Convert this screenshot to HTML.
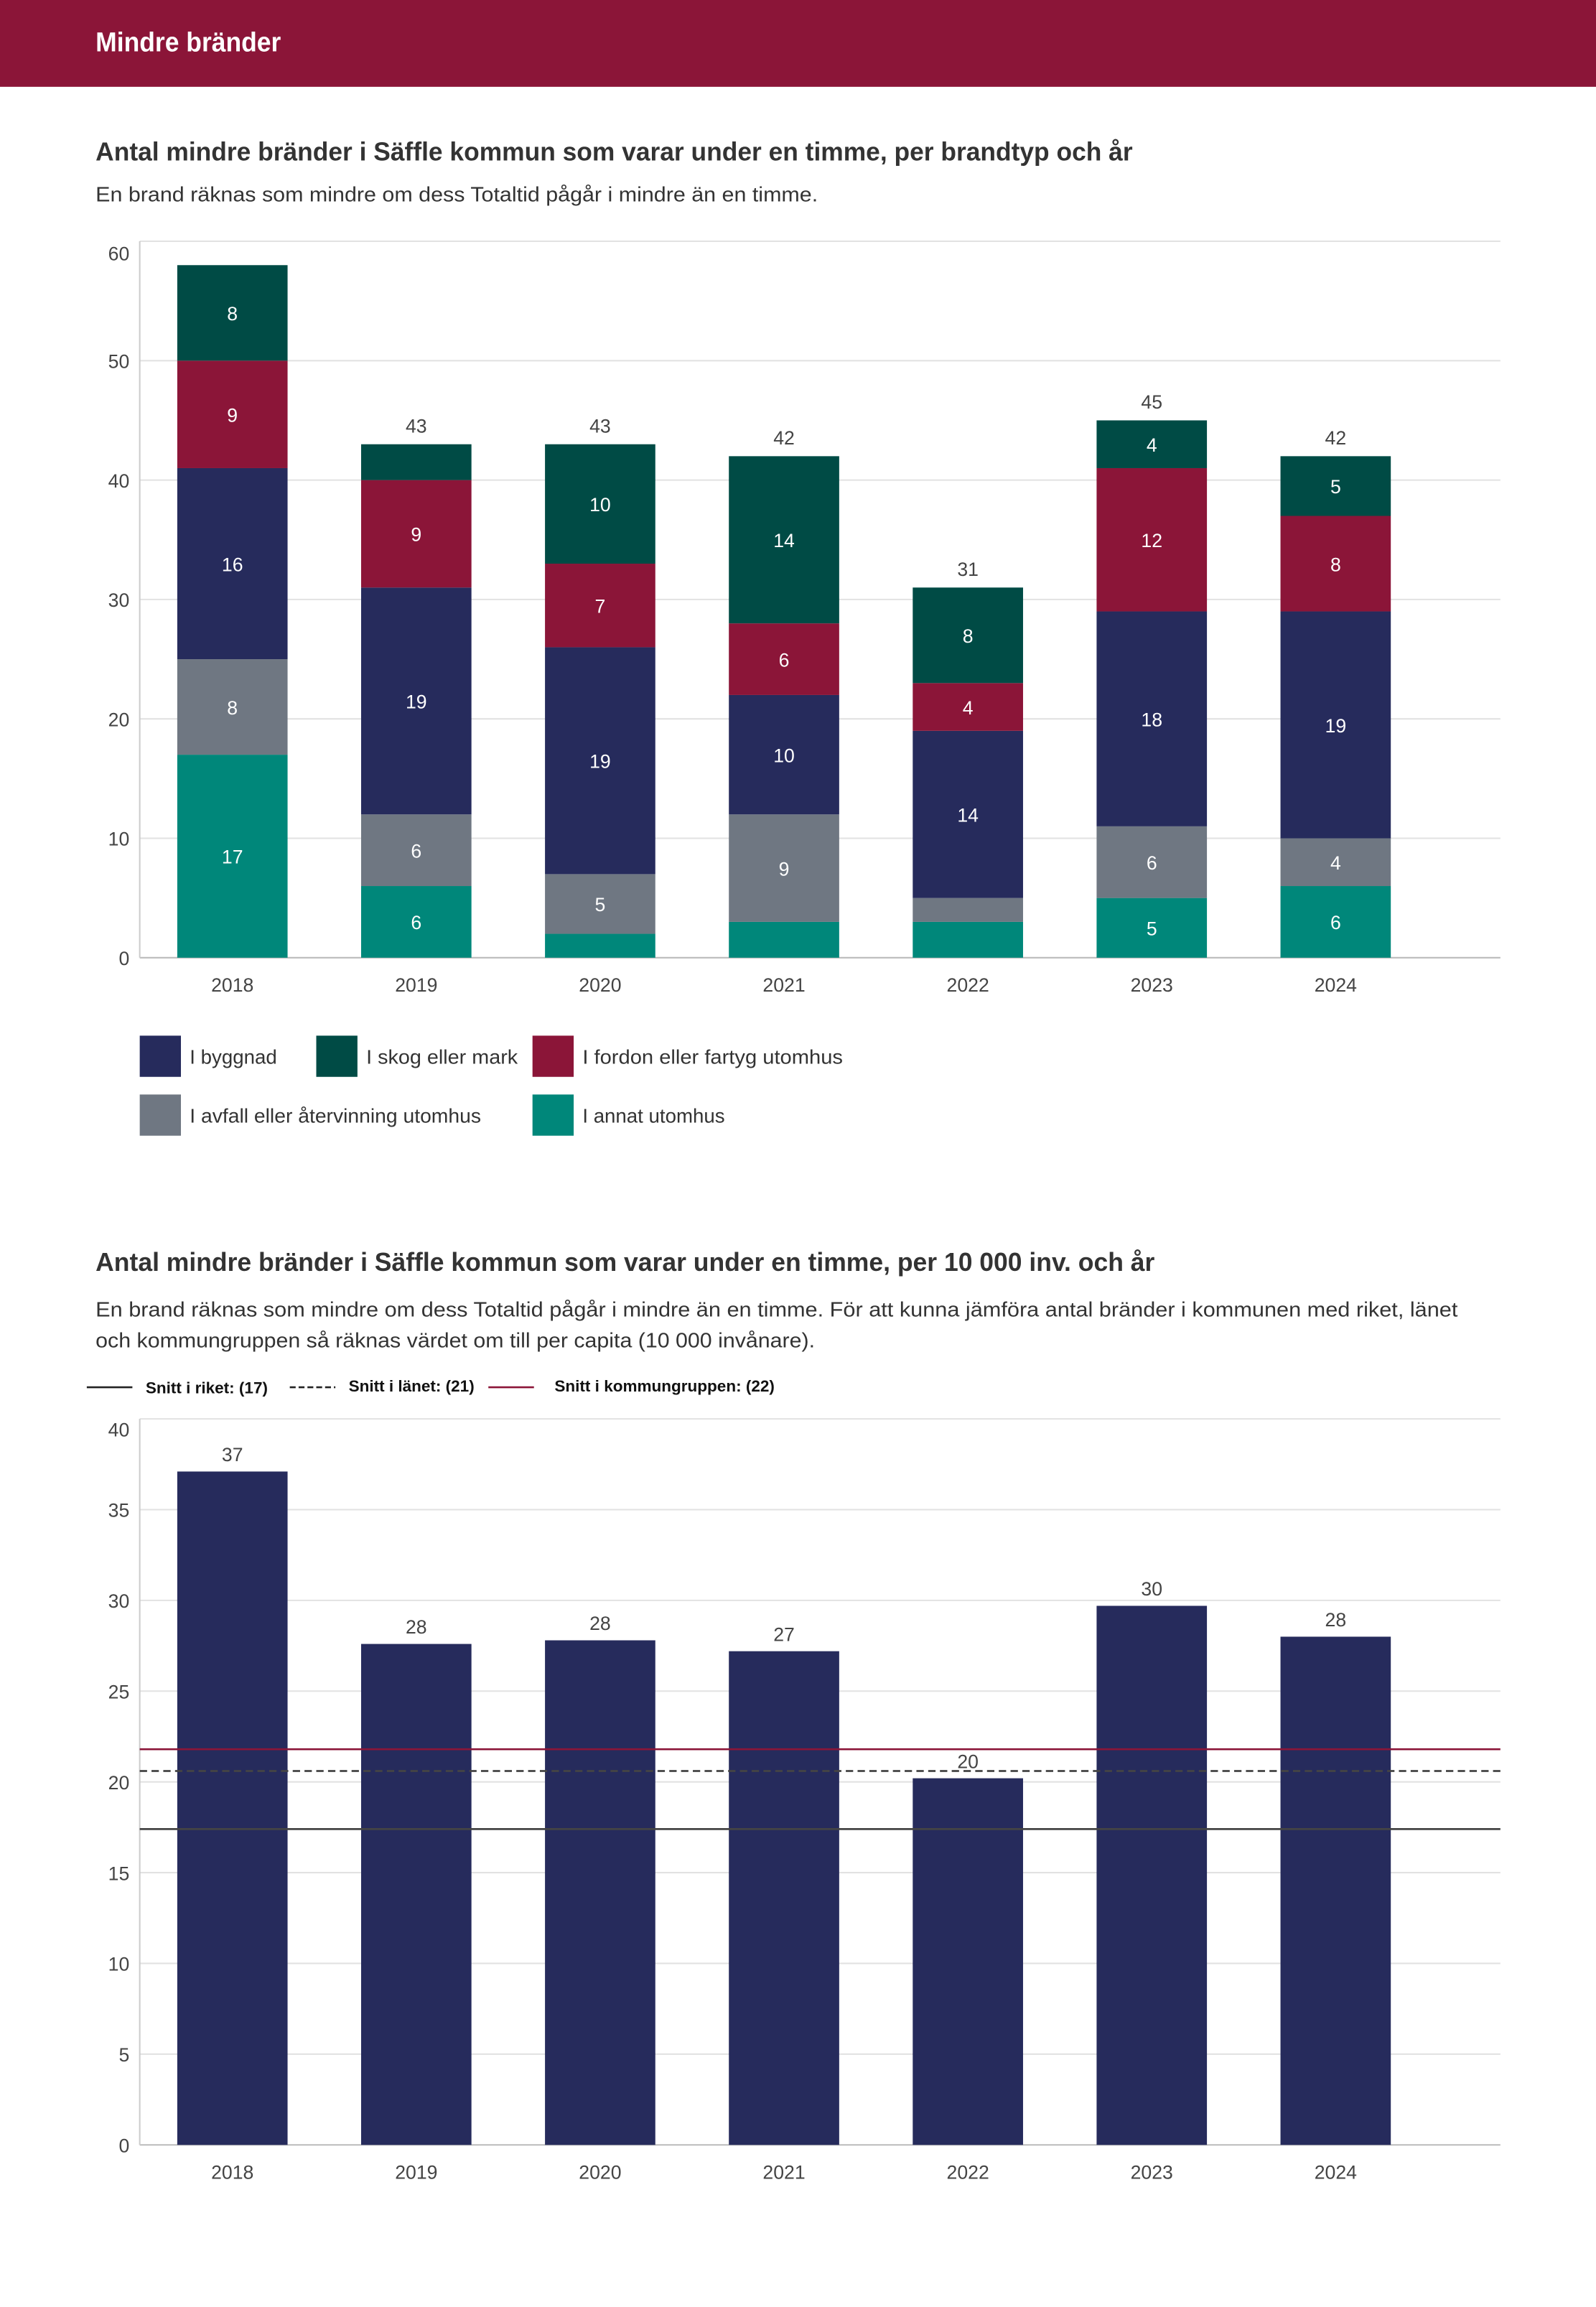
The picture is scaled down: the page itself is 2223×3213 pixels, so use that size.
<!DOCTYPE html>
<html><head><meta charset="utf-8"><style>
html,body{margin:0;padding:0;background:#fff}
svg{display:block}
text{font-family:"Liberation Sans",sans-serif}
</style></head><body>
<svg id="root" width="2223" height="3213" viewBox="0 0 1085 1568.2" xmlns="http://www.w3.org/2000/svg">
<rect x="0" y="0" width="1085" height="59" fill="#8b1538"/>
<text x="65" y="35" fill="#fff" font-size="18.5" font-weight="bold" textLength="126" lengthAdjust="spacingAndGlyphs">Mindre bränder</text>

<text x="65" y="109" fill="#333" font-size="17.5" font-weight="bold" textLength="705" lengthAdjust="spacingAndGlyphs">Antal mindre bränder i Säffle kommun som varar under en timme, per brandtyp och år</text>
<text x="65" y="137" fill="#333" font-size="14" textLength="491" lengthAdjust="spacingAndGlyphs">En brand räknas som mindre om dess Totaltid pågår i mindre än en timme.</text>
<g id="c1"></g>

<g>
<g><rect x="95" y="704" width="28" height="28" fill="#262b5c"/><text x="129" y="723" font-size="13.5" fill="#333">I byggnad</text></g>
<g><rect x="215" y="704" width="28" height="28" fill="#004b45"/><text x="249" y="723" font-size="13.5" fill="#333" textLength="103" lengthAdjust="spacingAndGlyphs">I skog eller mark</text></g>
<g><rect x="362" y="704" width="28" height="28" fill="#8b1538"/><text x="396" y="723" font-size="13.5" fill="#333" textLength="177" lengthAdjust="spacingAndGlyphs">I fordon eller fartyg utomhus</text></g>
<g><rect x="95" y="744" width="28" height="28" fill="#6f7782"/><text x="129" y="763" font-size="13.5" fill="#333" textLength="198" lengthAdjust="spacingAndGlyphs">I avfall eller återvinning utomhus</text></g>
<g><rect x="362" y="744" width="28" height="28" fill="#00877a"/><text x="396" y="763" font-size="13.5" fill="#333">I annat utomhus</text></g>
</g>

<text x="65" y="864" fill="#333" font-size="17.5" font-weight="bold" textLength="720" lengthAdjust="spacingAndGlyphs">Antal mindre bränder i Säffle kommun som varar under en timme, per 10 000 inv. och år</text>
<text x="65" y="895" fill="#333" font-size="14" textLength="926" lengthAdjust="spacingAndGlyphs">En brand räknas som mindre om dess Totaltid pågår i mindre än en timme. För att kunna jämföra antal bränder i kommunen med riket, länet</text>
<text x="65" y="916" fill="#333" font-size="14" textLength="489" lengthAdjust="spacingAndGlyphs">och kommungruppen så räknas värdet om till per capita (10 000 invånare).</text>
<g>
<g><line x1="59" y1="943" x2="90" y2="943" stroke="#222" stroke-width="1.3"/><text x="99" y="947" font-size="11" font-weight="bold" fill="#111">Snitt i riket: (17)</text></g>
<g><line x1="197" y1="943" x2="228" y2="943" stroke="#222" stroke-width="1.3" stroke-dasharray="4,2"/><text x="237" y="946" font-size="11" font-weight="bold" fill="#111">Snitt i länet: (21)</text></g>
<g><line x1="332" y1="943" x2="363" y2="943" stroke="#8b1538" stroke-width="1.3"/><text x="377" y="946" font-size="11" font-weight="bold" fill="#111">Snitt i kommungruppen: (22)</text></g>
</g>
<g id="c2"></g>
</svg>
<script>
const years = ["2018","2019","2020","2021","2022","2023","2024"];
const byggnad = [16,19,19,10,14,18,19];
const skog = [8,3,10,14,8,4,5];
const fordon = [9,9,7,6,4,12,8];
const avfall = [8,6,5,9,2,6,4];
const annat = [17,6,2,3,3,5,6];
const ticks1 = [0,10,20,30,40,50,60];
const perCapita = [37.1,27.6,27.8,27.2,20.2,29.7,28.0];
const perCapitaLabels = ["37","28","28","27","20","30","28"];
const ticks2 = [0,5,10,15,20,25,30,35,40];
const snittRiket = [17.4];
const snittLanet = [20.6];
const snittKommungrupp = [21.8];

const NS="http://www.w3.org/2000/svg";
function mk(tag,attrs,parent,txt){const e=document.createElementNS(NS,tag);for(const k in attrs)e.setAttribute(k,attrs[k]);if(txt!==undefined)e.textContent=txt;parent.appendChild(e);return e;}
const px0=95, px1=1020, step=125, bw=75, firstC=158;
const xc=i=>firstC+i*step;

// chart 1
const c1=document.getElementById('c1');
const y1=v=>651-v*(651-164)/60;
ticks1.forEach((t,k)=>{
  const g=mk('line',{x1:px0,x2:px1,y1:y1(t),y2:y1(t),stroke:t===0?'#bbb':'#e2e2e2','stroke-width':1},c1);
  
  
  const off=(k===ticks1.length-1)?13:5;
  const l=mk('text',{x:88,y:y1(t)+off,'text-anchor':'end','font-size':13,fill:'#444'},c1,t);
  
  
});
mk('line',{x1:px0,x2:px0,y1:164,y2:651,stroke:'#ccc'},c1);
const series=[["annat",annat,"#00877a"],["avfall",avfall,"#6f7782"],["byggnad",byggnad,"#262b5c"],["fordon",fordon,"#8b1538"],["skog",skog,"#004b45"]];
years.forEach((yr,i)=>{
  let acc=0;
  series.forEach(([nm,arr,col])=>{
    const v=arr[i];const top=y1(acc+v),bot=y1(acc);
    const r=mk('rect',{x:xc(i)-bw/2,y:top,width:bw,height:bot-top,fill:col},c1);
    
    
    if(v>=4){const t=mk('text',{x:xc(i),y:(top+bot)/2+5,'text-anchor':'middle','font-size':13,fill:'#fff'},c1,v);
      
      }
    acc+=v;
  });
  if(y1(acc)-10>185){const t=mk('text',{x:xc(i),y:y1(acc)-8,'text-anchor':'middle','font-size':13,fill:'#444'},c1,acc);
    
    }
  const xl=mk('text',{x:xc(i),y:674,'text-anchor':'middle','font-size':13,fill:'#444'},c1,yr);
  
  
});

// chart 2
const c2=document.getElementById('c2');
const y2=v=>1458-v*(1458-964.5)/40;
ticks2.forEach((t,k)=>{
  const g=mk('line',{x1:px0,x2:px1,y1:y2(t),y2:y2(t),stroke:t===0?'#bbb':'#e2e2e2','stroke-width':1},c2);
  
  
  const off=(k===ticks2.length-1)?12:5;
  const l=mk('text',{x:88,y:y2(t)+off,'text-anchor':'end','font-size':13,fill:'#444'},c2,t);
  
  
});
mk('line',{x1:px0,x2:px0,y1:964.5,y2:1458,stroke:'#ccc'},c2);
years.forEach((yr,i)=>{
  const top=y2(perCapita[i]);
  const r=mk('rect',{x:xc(i)-bw/2,y:top,width:bw,height:1458-top,fill:'#262b5c'},c2);
  
  
  const t=mk('text',{x:xc(i),y:top-7,'text-anchor':'middle','font-size':13,fill:'#444'},c2,perCapitaLabels[i]);
  
  
  const xl=mk('text',{x:xc(i),y:1481,'text-anchor':'middle','font-size':13,fill:'#444'},c2,yr);
  
  
});
const l1=mk('line',{x1:px0,x2:px1,y1:y2(snittRiket[0]),y2:y2(snittRiket[0]),stroke:'#444','stroke-width':1.3},c2);


const l2=mk('line',{x1:px0,x2:px1,y1:y2(snittLanet[0]),y2:y2(snittLanet[0]),stroke:'#444','stroke-width':1.3,'stroke-dasharray':'5,3'},c2);


const l3=mk('line',{x1:px0,x2:px1,y1:y2(snittKommungrupp[0]),y2:y2(snittKommungrupp[0]),stroke:'#8b1538','stroke-width':1.3},c2);


</script>
</body></html>
